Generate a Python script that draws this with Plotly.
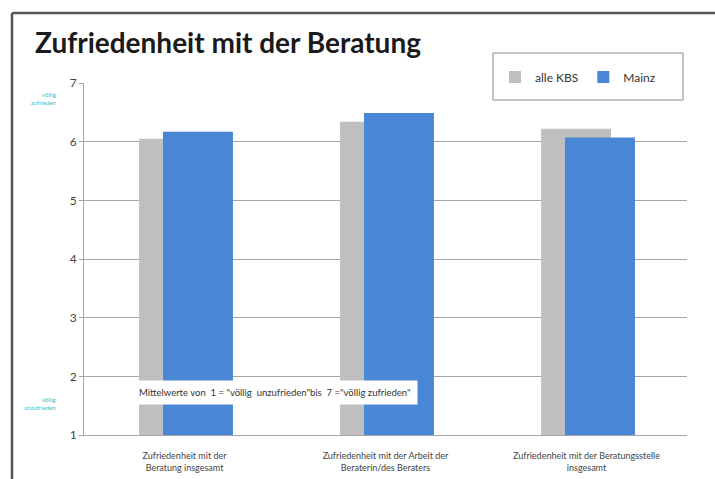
import plotly.graph_objects as go

# Survey means on a 1..7 scale
categories = [
    "Zufriedenheit mit der<br>Beratung insgesamt",
    "Zufriedenheit mit der Arbeit der<br>Beraterin/des Beraters",
    "Zufriedenheit mit der Beratungsstelle<br>insgesamt",
]
series_names = ["alle KBS", "Mainz"]
alle_kbs = [6.05, 6.34, 6.22]
mainz = [6.17, 6.49, 6.07]
y_ticks = [1, 2, 3, 4, 5, 6, 7]

W, H = 715, 479
L, R, T, B = 84, 28, 83, 44
PW, PH = W - L - R, H - T - B


def px_x(px):
    return (px - L) / PW


def px_y(py):
    return (H - B - py) / PH


FONT = "Lato, 'Open Sans', sans-serif"
GRAY = "#bfbfbf"
BLUE = "#4a86d6"

fig = go.Figure()
fig.add_trace(go.Bar(
    x=categories, y=alle_kbs, name=series_names[0],
    marker=dict(color=GRAY, line=dict(width=0)),
    width=0.348, offset=-0.226,
))
fig.add_trace(go.Bar(
    x=categories, y=mainz, name=series_names[1],
    marker=dict(color=BLUE, line=dict(width=0)),
    width=0.348, offset=-0.107,
))

shapes = [
    # slide frame
    dict(type="line", xref="paper", yref="paper",
         x0=px_x(12), x1=px_x(716), y0=px_y(13), y1=px_y(13),
         line=dict(color="#555555", width=2.5)),
    dict(type="line", xref="paper", yref="paper",
         x0=px_x(12), x1=px_x(12), y0=px_y(13), y1=px_y(480),
         line=dict(color="#555555", width=2.5)),
    # legend box
    dict(type="rect", xref="paper", yref="paper", layer="above",
         x0=px_x(493), x1=px_x(683), y0=px_y(100), y1=px_y(53),
         fillcolor="white", line=dict(color="#8a8a8a", width=1)),
]

annotations = [
    dict(text='Mittelwerte von  1 = "völlig  unzufrieden"bis  7 ="völlig zufrieden"',
         xref="paper", yref="y", x=px_x(275), y=1.73, xanchor="center",
         yanchor="middle", showarrow=False, bgcolor="white", borderpad=6,
         font=dict(size=9.5, color="#333333", family=FONT)),
    dict(text="völlig<br>zufrieden", xref="paper", yref="y",
         x=px_x(58), y=6.73, xanchor="right", align="right", showarrow=False,
         font=dict(size=6, color="#3cc0c0", family=FONT)),
    dict(text="völlig<br>unzufrieden", xref="paper", yref="y",
         x=px_x(58), y=1.53, xanchor="right", align="right", showarrow=False,
         font=dict(size=6, color="#3cc0c0", family=FONT)),
]

fig.update_layout(
    width=W, height=H,
    margin=dict(l=L, r=R, t=T, b=B, autoexpand=False),
    paper_bgcolor="white", plot_bgcolor="white",
    barmode="overlay",
    title=dict(text="Zufriedenheit mit der Beratung",
               x=35 / W, xanchor="left", y=1 - 43 / H, yanchor="middle",
               xref="container", yref="container",
               font=dict(size=28, color="#1a1a1a", family=FONT, weight="bold")),
    legend=dict(orientation="h", x=px_x(495), y=px_y(77), yanchor="middle",
                xanchor="left", bgcolor="rgba(0,0,0,0)", borderwidth=0,
                font=dict(size=12, color="#333333", family=FONT),
                itemwidth=30, traceorder="normal"),
    shapes=shapes,
    annotations=annotations,
    showlegend=True,
)

fig.update_xaxes(
    type="category", showgrid=False, showline=True,
    linecolor="#a6a6a6", linewidth=1, ticks="",
    ticklabelstandoff=12, automargin=False,
    tickfont=dict(size=9, color="#444444", family=FONT),
)
fig.update_yaxes(
    range=[1, 7], tickvals=y_ticks, showgrid=True, gridcolor="#a6a6a6",
    gridwidth=1, showline=True, linecolor="#a6a6a6", linewidth=1,
    ticks="outside", ticklen=4, tickcolor="#a6a6a6", zeroline=False,
    automargin=False,
    tickfont=dict(size=12, color="#444444", family=FONT),
)

fig.write_html("out.html")
